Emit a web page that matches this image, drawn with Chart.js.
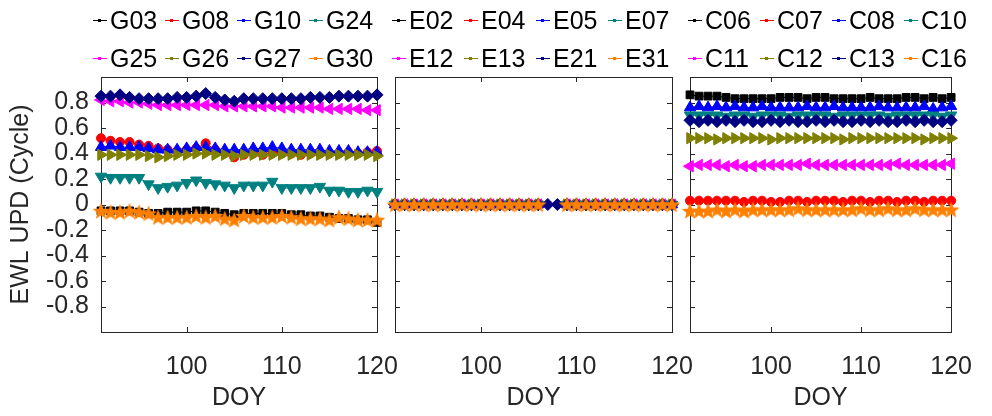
<!DOCTYPE html>
<html>
<head>
<meta charset="utf-8">
<script src="https://cdn.jsdelivr.net/npm/chart.js@4.4.1/dist/chart.umd.min.js"></script>
<style>
  body { margin: 0; background: #fff; }
  #wrap { position: relative; width: 992px; height: 416px; overflow: hidden; font-family: "Liberation Sans", Arial, sans-serif; }
  #wrap canvas.plot { position: absolute; left: 0; top: 0; }
  .legend { position: absolute; top: 1px; width: 290px; display: flex; flex-wrap: wrap; }
  .item { width: 72px; height: 38px; display: flex; align-items: center; font-size: 25px; color: #000; white-space: nowrap; }
  .ln { width: 14px; height: 1px; margin-right: 3px; position: relative; flex: none; }
  .ln i { position: absolute; left: 5px; top: -1px; width: 3px; height: 3px; }
</style>
</head>
<body>
<div id="wrap">
  <canvas class="plot" id="gps" width="992" height="416"></canvas>
  <canvas class="plot" id="gal" width="992" height="416"></canvas>
  <canvas class="plot" id="bds" width="992" height="416"></canvas>
  <div class="legend" id="leg-gps" style="left:93px"></div>
  <div class="legend" id="leg-gal" style="left:392px"></div>
  <div class="legend" id="leg-bds" style="left:688px"></div>
</div>
<script>
// day of year
const doy = [91, 92, 93, 94, 95, 96, 97, 98, 99, 100, 101, 102, 103, 104, 105,
  106, 107, 108, 109, 110, 111, 112, 113, 114, 115, 116, 117, 118, 119, 120];
const xTicks = [100, 110, 120];
const yTicks = [-0.8, -0.6, -0.4, -0.2, 0, 0.2, 0.4, 0.6, 0.8];

// GPS
const gpsNames = ["G03", "G08", "G10", "G24", "G25", "G26", "G27", "G30"];
const G03 = [-0.05,-0.05,-0.05,-0.05,-0.06,-0.07,-0.07,-0.06,-0.06,-0.06,-0.05,-0.05,-0.06,-0.07,-0.08,-0.07,-0.07,-0.07,-0.07,-0.07,-0.08,-0.08,-0.09,-0.09,-0.10,-0.11,-0.11,-0.12,-0.12,-0.14];
const G08 = [0.52,0.50,0.49,0.49,0.47,0.46,0.44,0.43,0.42,0.43,0.44,0.48,0.43,0.41,0.37,0.39,0.40,0.39,0.40,0.40,0.40,0.39,0.40,0.40,0.40,0.40,0.41,0.40,0.41,0.42];
const G10 = [0.45,0.46,0.45,0.45,0.45,0.44,0.43,0.43,0.43,0.44,0.45,0.45,0.44,0.43,0.43,0.43,0.44,0.44,0.45,0.44,0.43,0.43,0.43,0.43,0.42,0.42,0.42,0.41,0.41,0.41];
const G24 = [0.22,0.21,0.21,0.21,0.21,0.16,0.13,0.14,0.15,0.17,0.19,0.17,0.16,0.15,0.13,0.15,0.15,0.15,0.18,0.13,0.13,0.13,0.13,0.14,0.11,0.11,0.10,0.10,0.11,0.10];
const G25 = [0.82,0.81,0.81,0.80,0.80,0.79,0.78,0.78,0.78,0.78,0.78,0.78,0.78,0.77,0.77,0.77,0.77,0.77,0.77,0.76,0.76,0.76,0.76,0.76,0.75,0.75,0.75,0.75,0.74,0.74];
const G26 = [0.39,0.39,0.39,0.39,0.39,0.38,0.37,0.38,0.39,0.39,0.40,0.40,0.39,0.39,0.38,0.39,0.39,0.39,0.39,0.39,0.39,0.39,0.39,0.39,0.39,0.39,0.39,0.39,0.39,0.38];
const G27 = [0.85,0.85,0.86,0.84,0.83,0.83,0.83,0.83,0.84,0.84,0.85,0.87,0.84,0.82,0.81,0.83,0.83,0.83,0.83,0.83,0.83,0.83,0.84,0.84,0.84,0.85,0.85,0.85,0.85,0.86];
const G30 = [-0.05,-0.06,-0.06,-0.05,-0.06,-0.07,-0.10,-0.10,-0.10,-0.10,-0.09,-0.10,-0.09,-0.11,-0.12,-0.09,-0.10,-0.10,-0.10,-0.09,-0.10,-0.11,-0.11,-0.11,-0.12,-0.10,-0.11,-0.12,-0.12,-0.12];

// Galileo (days 107-108 missing except E21)
const galNames = ["E02", "E04", "E05", "E07", "E12", "E13", "E21", "E31"];
const E02 = [0,0,0,0,0,0,0,0,0,0,0,0,0,0,0,0,null,null,0,0,0,0,0,0,0,0,0,0,0,0];
const E04 = [0,0,0,0,0,0,0,0,0,0,0,0,0,0,0,0,null,null,0,0,0,0,0,0,0,0,0,0,0,0];
const E05 = [0,0,0,0,0,0,0,0,0,0,0,0,0,0,0,0,null,null,0,0,0,0,0,0,0,0,0,0,0,0];
const E07 = [0,0,0,0,0,0,0,0,0,0,0,0,0,0,0,0,null,null,0,0,0,0,0,0,0,0,0,0,0,0];
const E12 = [0,0,0,0,0,0,0,0,0,0,0,0,0,0,0,0,null,null,0,0,0,0,0,0,0,0,0,0,0,0];
const E13 = [0,0,0,0,0,0,0,0,0,0,0,0,0,0,0,0,null,null,0,0,0,0,0,0,0,0,0,0,0,0];
const E21 = [0,0,0,0,0,0,0,0,0,0,0,0,0,0,0,0,0,0,0,0,0,0,0,0,0,0,0,0,0,0];
const E31 = [0,0,0,0,0,0,0,0,0,0,0,0,0,0,0,0,null,null,0,0,0,0,0,0,0,0,0,0,0,0];

// BDS
const bdsNames = ["C06", "C07", "C08", "C10", "C11", "C12", "C13", "C16"];
const C06 = [0.86,0.85,0.85,0.85,0.84,0.83,0.83,0.83,0.83,0.83,0.84,0.84,0.84,0.83,0.84,0.84,0.83,0.83,0.83,0.83,0.84,0.83,0.83,0.83,0.84,0.84,0.83,0.84,0.83,0.84];
const C07 = [0.03,0.03,0.03,0.03,0.03,0.03,0.02,0.03,0.03,0.02,0.02,0.03,0.03,0.02,0.03,0.03,0.03,0.02,0.03,0.03,0.02,0.03,0.03,0.02,0.03,0.03,0.02,0.03,0.03,0.03];
const C08 = [0.76,0.77,0.76,0.77,0.76,0.77,0.76,0.76,0.77,0.76,0.76,0.76,0.76,0.77,0.76,0.76,0.77,0.76,0.76,0.76,0.76,0.77,0.76,0.76,0.76,0.76,0.77,0.75,0.76,0.77];
const C10 = [0.70,0.70,0.70,0.70,0.69,0.70,0.70,0.69,0.70,0.70,0.70,0.69,0.70,0.70,0.70,0.70,0.69,0.70,0.70,0.70,0.70,0.70,0.69,0.70,0.70,0.70,0.70,0.70,0.69,0.70];
const C11 = [0.30,0.31,0.31,0.31,0.30,0.31,0.30,0.30,0.31,0.31,0.31,0.31,0.31,0.32,0.31,0.31,0.31,0.31,0.31,0.31,0.31,0.31,0.31,0.32,0.31,0.31,0.31,0.31,0.31,0.32];
const C12 = [0.52,0.52,0.52,0.51,0.52,0.52,0.52,0.52,0.52,0.51,0.52,0.52,0.52,0.52,0.52,0.52,0.52,0.51,0.52,0.52,0.52,0.52,0.52,0.52,0.52,0.52,0.51,0.52,0.52,0.52];
const C13 = [0.66,0.65,0.66,0.65,0.66,0.65,0.66,0.65,0.65,0.66,0.65,0.66,0.65,0.65,0.66,0.65,0.66,0.65,0.65,0.66,0.65,0.66,0.65,0.65,0.66,0.65,0.66,0.65,0.65,0.66];
const C16 = [-0.05,-0.05,-0.05,-0.04,-0.05,-0.04,-0.05,-0.04,-0.04,-0.04,-0.04,-0.04,-0.03,-0.04,-0.04,-0.04,-0.04,-0.04,-0.04,-0.03,-0.04,-0.04,-0.03,-0.04,-0.04,-0.03,-0.04,-0.04,-0.04,-0.04];

const colors = ["#000000", "#ff0000", "#0000ff", "#008080", "#ff00ff", "#808000", "#000080", "#ff8000"];
const axisColor = "#262626";
const font = { family: "'Liberation Sans', Arial, sans-serif", size: 25, lineHeight: 1.2 };

function pentagram(color, size) {
  const c = document.createElement("canvas");
  c.width = c.height = size;
  const g = c.getContext("2d");
  const R = size / 2, r = R * 0.42;
  g.beginPath();
  for (let k = 0; k < 10; k++) {
    const rad = k % 2 ? r : R - 0.3;
    const a = -Math.PI / 2 + k * Math.PI / 5;
    g.lineTo(R + rad * Math.cos(a), R + rad * Math.sin(a) + 0.8);
  }
  g.closePath();
  g.fillStyle = color;
  g.fill();
  return c;
}

const markers = [
  { style: "rect", r: 5.5, rot: 0 },
  { style: "circle", r: 4.5, rot: 0 },
  { style: "triangle", r: 6.5, rot: 0 },
  { style: "triangle", r: 6.5, rot: 180 },
  { style: "triangle", r: 6.5, rot: -90 },
  { style: "triangle", r: 6.5, rot: 90 },
  { style: "rectRot", r: 6, rot: 0 },
  { style: pentagram(colors[7], 18), r: 8, rot: 0 }
];

// box + inward ticks like matlab
const boxTicks = {
  id: "boxTicks",
  beforeDatasetsDraw(chart) {
    const { ctx, chartArea: a, scales: { x, y } } = chart;
    ctx.save();
    ctx.strokeStyle = axisColor;
    ctx.lineWidth = 1;
    ctx.beginPath();
    x.ticks.forEach(t => {
      const px = Math.round(x.getPixelForValue(t.value)) + 0.5;
      ctx.moveTo(px, a.bottom); ctx.lineTo(px, a.bottom - 5);
      ctx.moveTo(px, a.top); ctx.lineTo(px, a.top + 5);
    });
    y.ticks.forEach(t => {
      const py = Math.round(y.getPixelForValue(t.value)) + 0.5;
      ctx.moveTo(a.left, py); ctx.lineTo(a.left + 5, py);
      ctx.moveTo(a.right, py); ctx.lineTo(a.right - 5, py);
    });
    ctx.stroke();
    ctx.strokeRect(Math.round(a.left) + 0.5, Math.round(a.top) + 0.5,
      Math.round(a.right - a.left), Math.round(a.bottom - a.top));
    ctx.restore();
  }
};

function makePanel(id, names, series, left, right, showY) {
  const yW = showY ? 101 : 10;
  const datasets = series.map((vals, i) => ({
    label: names[i],
    data: vals.map((v, k) => ({ x: doy[k], y: v })),
    borderColor: colors[i],
    backgroundColor: colors[i],
    borderWidth: 1,
    pointStyle: markers[i].style,
    pointRadius: markers[i].r,
    pointRotation: markers[i].rot,
    pointBorderWidth: 1,
    pointBorderColor: colors[i],
    pointBackgroundColor: colors[i],
    spanGaps: false,
    clip: false,
    order: -i
  }));
  return new Chart(document.getElementById(id), {
    type: "line",
    data: { datasets },
    options: {
      responsive: false,
      animation: false,
      events: [],
      layout: { padding: { left: left - yW, right: 992 - right, top: 77, bottom: 0 } },
      plugins: { legend: { display: false }, tooltip: { enabled: false } },
      scales: {
        x: {
          type: "linear", min: 91, max: 120,
          afterBuildTicks: s => { s.ticks = xTicks.map(v => ({ value: v })); },
          afterFit: s => { s.height = 84; },
          grid: { display: false, drawTicks: false },
          border: { display: false },
          ticks: { font, color: axisColor, padding: 20, maxRotation: 0, autoSkip: false },
          title: { display: true, text: "DOY", font, color: axisColor, padding: { top: 3, bottom: 3 } }
        },
        y: {
          type: "linear", min: -1, max: 1,
          afterBuildTicks: s => { s.ticks = yTicks.map(v => ({ value: v })); },
          afterFit: s => { s.width = yW; },
          grid: { display: false, drawTicks: false },
          border: { display: false },
          ticks: { display: showY, font, color: axisColor, padding: 12, autoSkip: false, callback: v => String(v) },
          title: { display: showY, text: "EWL UPD (Cycle)", font, color: axisColor, padding: { top: 6, bottom: 6 } }
        }
      }
    },
    plugins: [boxTicks]
  });
}

function makeLegend(id, names) {
  const box = document.getElementById(id);
  names.forEach((n, i) => {
    const it = document.createElement("div");
    it.className = "item";
    const ln = document.createElement("span");
    ln.className = "ln";
    ln.style.background = colors[i];
    const dot = document.createElement("i");
    dot.style.background = colors[i];
    ln.appendChild(dot);
    it.appendChild(ln);
    it.appendChild(document.createTextNode(n));
    box.appendChild(it);
  });
}

makePanel("gps", gpsNames, [G03, G08, G10, G24, G25, G26, G27, G30], 101, 377, true);
makePanel("gal", galNames, [E02, E04, E05, E07, E12, E13, E21, E31], 395, 672, false);
makePanel("bds", bdsNames, [C06, C07, C08, C10, C11, C12, C13, C16], 690, 966, false);
makeLegend("leg-gps", gpsNames);
makeLegend("leg-gal", galNames);
makeLegend("leg-bds", bdsNames);
</script>
</body>
</html>
